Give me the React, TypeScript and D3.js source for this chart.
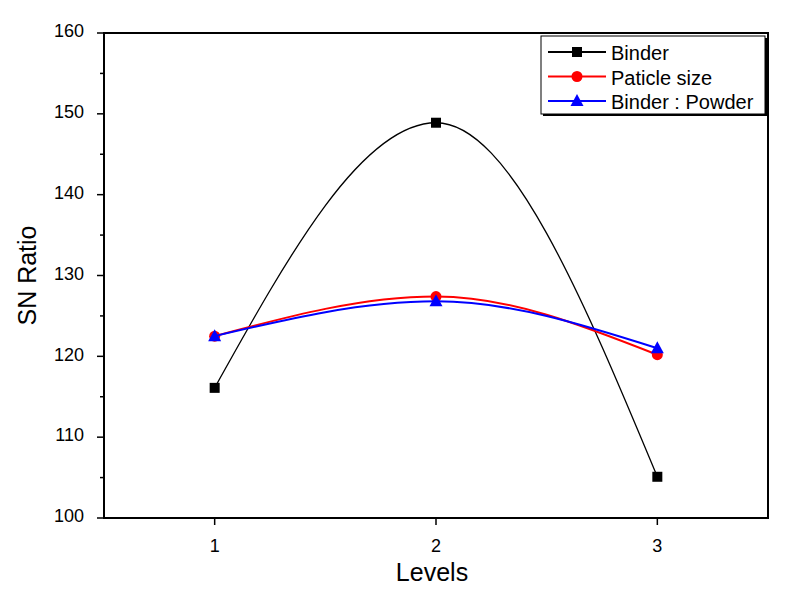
import React from "react";
import * as d3 from "d3";

const levels = [1, 2, 3];
const binder = [116.1, 148.9, 105.1];
const particleSize = [122.5, 127.4, 120.2];
const binderPowder = [122.5, 126.8, 121.0];
const yTicks = [100, 110, 120, 130, 140, 150, 160];
const yMinorTicks = [105, 115, 125, 135, 145, 155];
const seriesNames = ["Binder", "Paticle size", "Binder : Powder"];
const seriesColors = ["#000000", "#ff0000", "#0000ff"];
const seriesShapes = ["square", "circle", "triangle"];

const W = 788, H = 599;
const L = 104, R = 768, T = 33, B = 518;

export default function App() {
  const x = d3.scaleLinear().domain([0.5, 3.5]).range([L, R]);
  const y = d3.scaleLinear().domain([100, 160]).range([B, T]);
  const series = [binder, particleSize, binderPowder];
  const line = d3
    .line<[number, number]>()
    .x((d) => x(d[0]))
    .y((d) => y(d[1]))
    .curve(d3.curveMonotoneX);

  const marker = (shape: string, cx: number, cy: number, color: string, key: string) => {
    if (shape === "square")
      return <rect key={key} x={cx - 5} y={cy - 5} width={10} height={10} fill={color} />;
    if (shape === "circle") return <circle key={key} cx={cx} cy={cy} r={5.5} fill={color} />;
    return (
      <path
        key={key}
        d={`M${cx},${cy - 7}L${cx + 6.5},${cy + 5}L${cx - 6.5},${cy + 5}Z`}
        fill={color}
      />
    );
  };

  const font = "Arial, 'Liberation Sans', sans-serif";
  const legX = 541, legY = 36, legW = 224, legH = 78;

  return (
    <svg
      width={W}
      height={H}
      style={{ position: "absolute", left: 0, top: 0, background: "#fff" }}
      fontFamily={font}
    >
      <rect x={0} y={0} width={W} height={H} fill="#fff" />
      {/* series */}
      {series.map((s, i) => (
        <g key={i}>
          <path
            d={line(levels.map((l, j) => [l, s[j]]) as [number, number][]) || ""}
            fill="none"
            stroke={seriesColors[i]}
            strokeWidth={i === 0 ? 1.3 : 2}
          />
          {levels.map((l, j) => marker(seriesShapes[i], x(l), y(s[j]), seriesColors[i], `m${i}-${j}`))}
        </g>
      ))}
      {/* frame */}
      <rect x={L} y={T} width={R - L} height={B - T} fill="none" stroke="#000" strokeWidth={2} />
      {/* y ticks */}
      {yTicks.map((t) => (
        <g key={t}>
          <line x1={L - 7} x2={L} y1={y(t)} y2={y(t)} stroke="#000" strokeWidth={1.5} />
          <text x={L - 20} y={y(t) - 2} dy="0.35em" textAnchor="end" fontSize={18} fill="#000">
            {t}
          </text>
        </g>
      ))}
      {yMinorTicks.map((t) => (
        <line key={t} x1={L - 4} x2={L} y1={y(t)} y2={y(t)} stroke="#000" strokeWidth={1.5} />
      ))}
      {/* x ticks */}
      {levels.map((t) => (
        <g key={t}>
          <line x1={x(t)} x2={x(t)} y1={B} y2={B + 7} stroke="#000" strokeWidth={1.5} />
          <text x={x(t)} y={B + 34} textAnchor="middle" fontSize={18} fill="#000">
            {t}
          </text>
        </g>
      ))}
      <text x={x(2) - 4} y={581} textAnchor="middle" fontSize={25} fill="#000">
        Levels
      </text>
      <text
        transform={`translate(36,${(T + B) / 2}) rotate(-90)`}
        textAnchor="middle"
        fontSize={25}
        fill="#000"
      >
        SN Ratio
      </text>
      {/* legend */}
      <rect x={legX + 2} y={legY + 2} width={legW} height={legH} fill="#000" />
      <rect x={legX} y={legY} width={legW} height={legH} fill="#fff" stroke="#000" strokeWidth={1} />
      {seriesNames.map((n, i) => {
        const ly = legY + 16 + i * 24.5;
        return (
          <g key={n}>
            <line x1={legX + 7} x2={legX + 65} y1={ly} y2={ly} stroke={seriesColors[i]} strokeWidth={2} />
            {marker(seriesShapes[i], legX + 36, ly, seriesColors[i], `lm${i}`)}
            <text x={legX + 70} y={ly + 1} dy="0.35em" fontSize={20} fill="#000">
              {n}
            </text>
          </g>
        );
      })}
    </svg>
  );
}
